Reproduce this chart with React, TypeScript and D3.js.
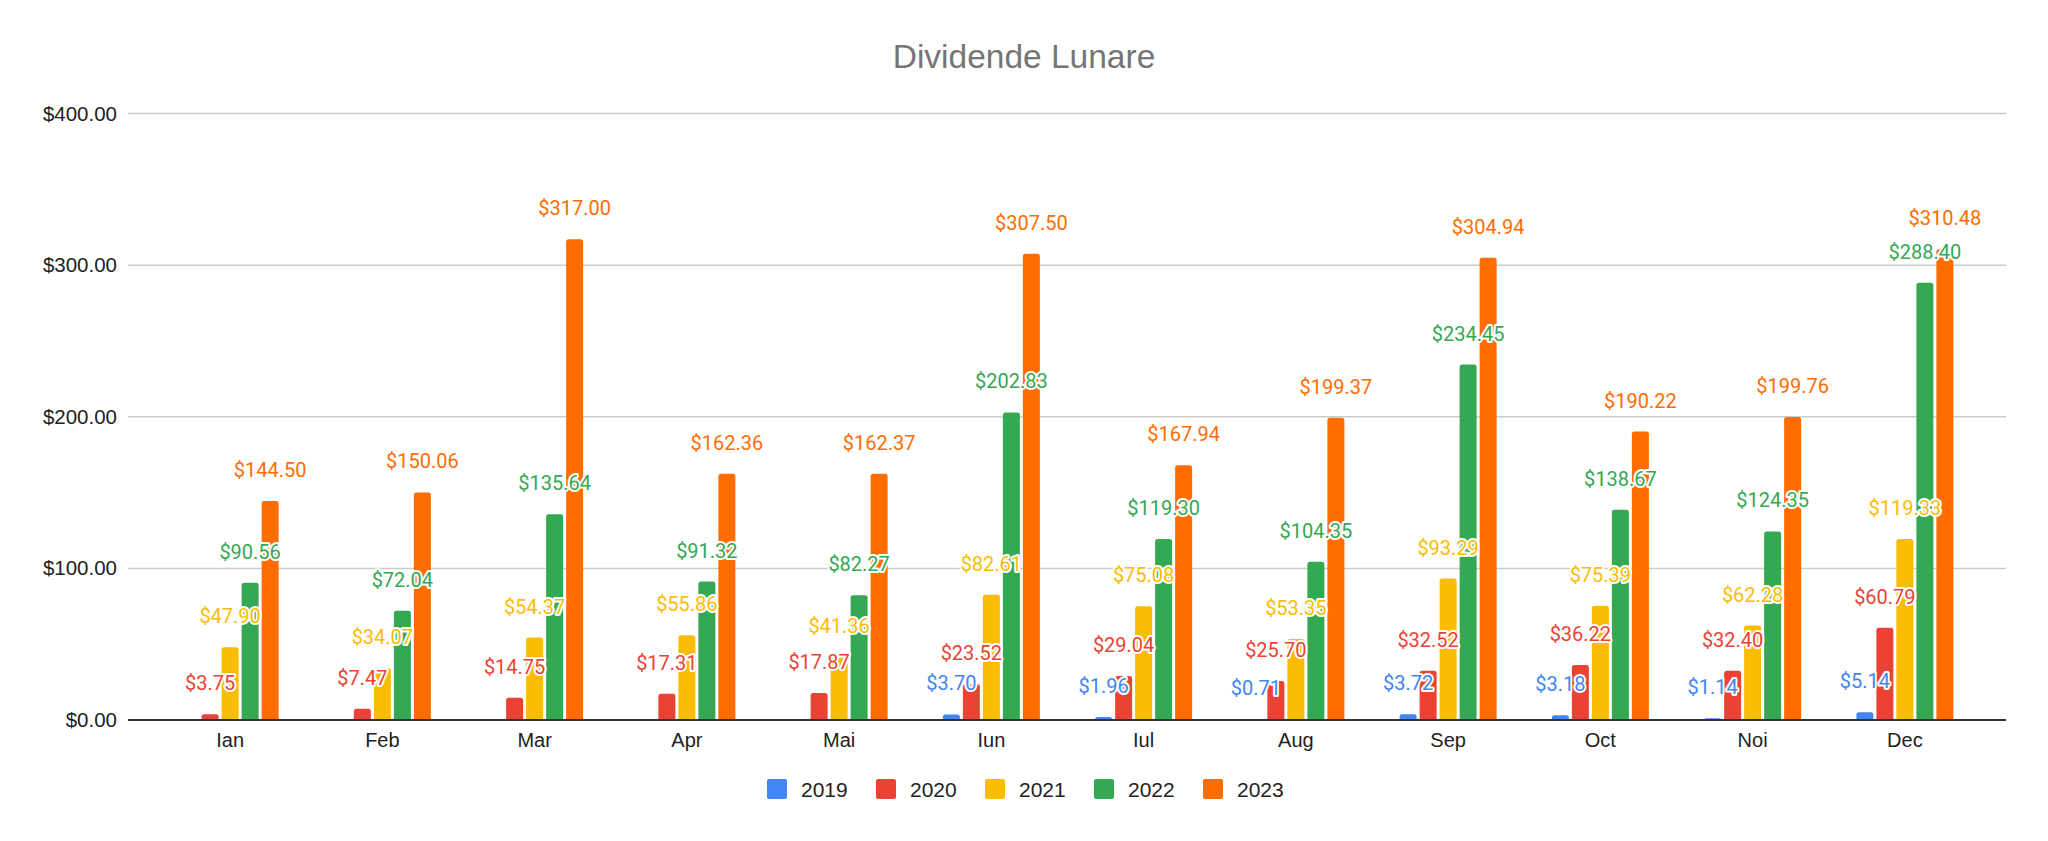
import React from "react";
import * as d3 from "d3";

const months = ["Ian", "Feb", "Mar", "Apr", "Mai", "Iun", "Iul", "Aug", "Sep", "Oct", "Noi", "Dec"];
const seriesNames = ["2019", "2020", "2021", "2022", "2023"];
const seriesColors = ["#4285F4", "#EA4335", "#FBBC04", "#34A853", "#FF6D01"];

const values2019 = [0, 0, 0, 0, 0, 3.7, 1.96, 0.71, 3.72, 3.18, 1.14, 5.14];
const values2020 = [3.75, 7.47, 14.75, 17.31, 17.87, 23.52, 29.04, 25.7, 32.52, 36.22, 32.4, 60.79];
const values2021 = [47.9, 34.07, 54.37, 55.86, 41.36, 82.61, 75.08, 53.35, 93.29, 75.39, 62.28, 119.33];
const values2022 = [90.56, 72.04, 135.64, 91.32, 82.27, 202.83, 119.3, 104.35, 234.45, 138.67, 124.35, 288.4];
const values2023 = [144.5, 150.06, 317.0, 162.36, 162.37, 307.5, 167.94, 199.37, 304.94, 190.22, 199.76, 310.48];

const yTicks = [0, 100, 200, 300, 400];
const title = "Dividende Lunare";

const seriesValues = [values2019, values2020, values2021, values2022, values2023];

const W = 2048;
const H = 841;
const plotLeft = 128;
const plotRight = 2006;

const fmt = (v: number) => "$" + d3.format(",.2f")(v);

function barPath(x: number, y: number, w: number, h: number, r: number) {
  const p = d3.path();
  const rr = Math.min(r, h, w / 2);
  p.moveTo(x, y + h);
  p.lineTo(x, y + rr);
  p.quadraticCurveTo(x, y, x + rr, y);
  p.lineTo(x + w - rr, y);
  p.quadraticCurveTo(x + w, y, x + w, y + rr);
  p.lineTo(x + w, y + h);
  p.closePath();
  return p.toString();
}

export default function App() {
  const x0 = d3.scaleBand<string>().domain(months).range([154, 1981]).paddingInner(0).paddingOuter(0);
  const x1 = d3.scaleBand<string>().domain(seriesNames).range([-48.5, 48.5]).paddingInner(0.15).paddingOuter(0);
  const y = d3.scaleLinear().domain([0, 400]).range([720, 113.5]);

  const bars: JSX.Element[] = [];
  const labels: JSX.Element[] = [];
  months.forEach((m, mi) => {
    const cx = (x0(m) ?? 0) + x0.bandwidth() / 2;
    seriesNames.forEach((s, si) => {
      const v = seriesValues[si][mi];
      if (!v) return;
      const bx = cx + (x1(s) ?? 0);
      const bw = x1.bandwidth();
      const top = y(v);
      const h = y(0) - top;
      bars.push(
        <path key={`b-${mi}-${si}`} d={barPath(bx, top, bw, h, 2.5)} fill={seriesColors[si]} />
      );
      labels.push(
        <text
          key={`l-${mi}-${si}`}
          x={bx + bw / 2}
          y={top - 24}
          textAnchor="middle"
          fontFamily="Roboto, Arial, sans-serif"
          fontSize={20}
          fill={seriesColors[si]}
          stroke="#ffffff"
          strokeWidth={4}
          strokeLinejoin="round"
          paintOrder="stroke"
        >
          {fmt(v)}
        </text>
      );
    });
  });

  const legendX0 = 767;
  const legendStep = 109;

  return (
    <svg
      width={W}
      height={H}
      viewBox={`0 0 ${W} ${H}`}
      style={{ position: "absolute", left: 0, top: 0, background: "#ffffff" }}
    >
      <rect x={0} y={0} width={W} height={H} fill="#ffffff" />
      <text
        x={1024}
        y={68}
        textAnchor="middle"
        fontFamily="'Liberation Sans', Arial, sans-serif"
        fontSize={33.5}
        fill="#757575"
      >
        {title}
      </text>

      {yTicks.map((t) => (
        <g key={`t-${t}`}>
          {t !== 0 && (
            <line x1={plotLeft} x2={plotRight} y1={y(t)} y2={y(t)} stroke="#cccccc" strokeWidth={1.5} />
          )}
          <text
            x={117}
            y={y(t) + 7}
            textAnchor="end"
            fontFamily="'Liberation Sans', Arial, sans-serif"
            fontSize={20.5}
            fill="#222222"
          >
            {fmt(t)}
          </text>
        </g>
      ))}

      {bars}

      <line x1={plotLeft} x2={plotRight} y1={y(0)} y2={y(0)} stroke="#333333" strokeWidth={2} />

      {months.map((m) => (
        <text
          key={`m-${m}`}
          x={(x0(m) ?? 0) + x0.bandwidth() / 2}
          y={747}
          textAnchor="middle"
          fontFamily="'Liberation Sans', Arial, sans-serif"
          fontSize={20}
          fill="#222222"
        >
          {m}
        </text>
      ))}

      {labels}

      {seriesNames.map((s, si) => (
        <g key={`lg-${s}`} transform={`translate(${legendX0 + si * legendStep},779)`}>
          <rect x={0} y={0} width={20} height={20} rx={2} fill={seriesColors[si]} />
          <text
            x={34}
            y={18}
            fontFamily="'Liberation Sans', Arial, sans-serif"
            fontSize={21}
            fill="#222222"
          >
            {s}
          </text>
        </g>
      ))}
    </svg>
  );
}
